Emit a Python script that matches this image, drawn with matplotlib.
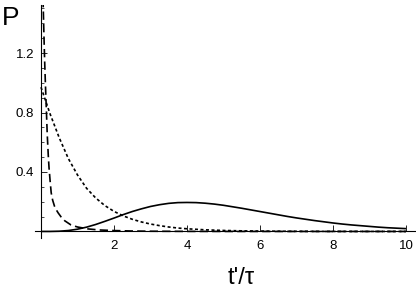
# -*- coding: utf-8 -*-
""" Three probability curves P(t'/tau) in Mathematica-like style """
import numpy as np
import matplotlib
matplotlib.use("Agg")
import matplotlib.pyplot as plt
from matplotlib.ticker import MultipleLocator

# -----------------------------------------------------------------------------
# Data
# -----------------------------------------------------------------------------
t_solid = [0, 0.25, 0.5, 0.75, 1, 1.25, 1.5, 1.75, 2, 2.25, 2.5, 2.75, 3,
           3.25, 3.5, 3.75, 4, 4.25, 4.5, 4.75, 5, 5.25, 5.5, 5.75, 6, 6.25,
           6.5, 6.75, 7, 7.25, 7.5, 7.75, 8, 8.25, 8.5, 8.75, 9, 9.25, 9.5,
           9.75, 10]
p_solid = [0, 0.0001, 0.0016, 0.0062, 0.0153, 0.029, 0.047, 0.068, 0.090,
           0.113, 0.134, 0.152, 0.168, 0.180, 0.189, 0.194, 0.195, 0.194,
           0.190, 0.184, 0.176, 0.166, 0.156, 0.145, 0.134, 0.123, 0.112,
           0.101, 0.091, 0.082, 0.073, 0.065, 0.057, 0.050, 0.044, 0.039,
           0.034, 0.029, 0.025, 0.022, 0.019]

t_dotted = [0, 0.25, 0.5, 0.75, 1, 1.25, 1.5, 1.75, 2, 2.25, 2.5, 2.75, 3,
            3.25, 3.5, 3.75, 4, 4.5, 5, 5.5, 6, 7, 8, 9, 10]
p_dotted = [0.97, 0.79, 0.63, 0.49, 0.38, 0.29, 0.225, 0.174, 0.135, 0.105,
            0.082, 0.064, 0.050, 0.039, 0.030, 0.023, 0.018, 0.011, 0.0067,
            0.0041, 0.0025, 0.0009, 0.0003, 0.0001, 0.00005]

t_dashed = [0.03, 0.05, 0.08, 0.10, 0.12, 0.15, 0.17, 0.20, 0.22, 0.25, 0.28,
            0.32, 0.37, 0.42, 0.47, 0.55, 0.65, 0.82, 1.0, 1.29, 1.6, 2.0,
            2.5, 3, 4, 5, 6, 8, 10]
p_dashed = [2.0, 1.62, 1.33, 1.15, 1.0, 0.80, 0.66, 0.51, 0.43, 0.34, 0.26,
            0.21, 0.17, 0.145, 0.125, 0.098, 0.072, 0.044, 0.030, 0.017,
            0.010, 0.006, 0.003, 0.0015, 0.0005, 0.0002, 0.0001, 0.0, 0.0]

x_ticks = [2, 4, 6, 8, 10]
y_ticks = [0.4, 0.8, 1.2]

W, H = 416, 293

# -----------------------------------------------------------------------------
# Plot
# -----------------------------------------------------------------------------
plt.rcParams['font.family'] = ['Liberation Sans', 'DejaVu Sans']

fig = plt.figure(figsize=(W / 100, H / 100), dpi=100)
ax = fig.add_axes([35 / W, (H - 238) / H, (415 - 35) / W, (238 - 5) / H])

lw = 1.2
ax.plot(t_solid, p_solid, color='black', lw=lw, solid_capstyle='butt')
ax.plot(t_dotted, p_dotted, color='black', lw=lw, linestyle=(0, (1.8, 1.5)))
ax.plot(t_dashed, p_dashed, color='black', lw=lw, linestyle=(0, (5, 2.5)))

ax.set_xlim(-0.164, 10.247)
ax.set_ylim(-0.044, 1.523)

ax.spines['top'].set_visible(False)
ax.spines['right'].set_visible(False)
ax.spines['left'].set_position(('data', 0))
ax.spines['bottom'].set_position(('data', 0))
for s in ('left', 'bottom'):
    ax.spines[s].set_linewidth(0.8)

ax.set_xticks(x_ticks)
ax.set_yticks(y_ticks)
ax.set_xticklabels([str(v) for v in x_ticks])
ax.set_yticklabels([str(v) for v in y_ticks])
ax.yaxis.set_minor_locator(MultipleLocator(0.1))
ax.tick_params(axis='both', which='major', direction='in', length=4,
               width=0.6, labelsize=9.5)
ax.tick_params(axis='y', which='minor', direction='in', length=2,
               width=0.5)
ax.tick_params(axis='x', pad=6)
ax.tick_params(axis='y', pad=5)

fig.text(2 / W, 1 - 6 / H, 'P', fontsize=19, ha='left', va='top')
fig.text(241 / W, 1 - 278 / H, "t'/\u03c4", fontsize=17, ha='center',
         va='center')

fig.savefig('out.png', dpi=100)
